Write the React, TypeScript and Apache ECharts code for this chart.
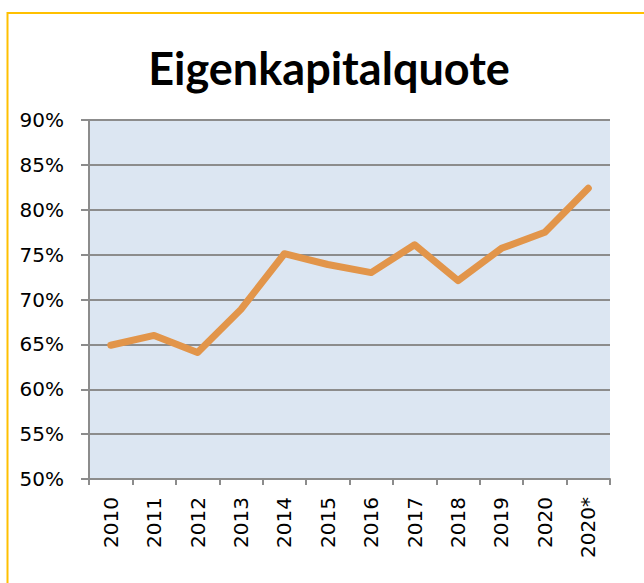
import React, { useEffect, useRef } from "react";
import * as echarts from "echarts";

const categories = ["2010", "2011", "2012", "2013", "2014", "2015", "2016", "2017", "2018", "2019", "2020", "2020*"];
const equityRatio = [64.9, 66.0, 64.1, 68.9, 75.1, 73.9, 73.0, 76.1, 72.1, 75.7, 77.5, 82.4];
const yMin = 50;
const yMax = 90;
const yStep = 5;
const titleText = "Eigenkapitalquote";

const labelFont = "'DejaVu Sans', Verdana, sans-serif";

export default function App() {
  const ref = useRef<HTMLDivElement>(null);
  useEffect(() => {
    if (!ref.current) return;
    const chart = echarts.init(ref.current, null, { renderer: "svg" });
    chart.setOption({
      animation: false,
      backgroundColor: "#ffffff",
      textStyle: { fontFamily: labelFont },
      graphic: [
        {
          type: "rect",
          shape: { x: 7.5, y: 13, width: 700, height: 700 },
          style: { fill: "none", stroke: "#FFC000", lineWidth: 2 },
          silent: true,
          z: 100,
        },
        {
          type: "text",
          x: 329,
          y: 45,
          style: {
            text: titleText,
            fontFamily: "Lato",
            fontWeight: "bold",
            fontSize: 45,
            fill: "#000000",
            textAlign: "center",
            textVerticalAlign: "top",
          },
        },
      ],
      grid: {
        left: 89,
        right: 34,
        top: 120,
        bottom: 104,
        show: true,
        backgroundColor: "#DCE6F2",
        borderWidth: 0,
      },
      xAxis: {
        type: "category",
        data: categories,
        boundaryGap: true,
        axisLine: { show: true, lineStyle: { color: "#8C8C8C", width: 2 } },
        axisTick: { show: true, alignWithLabel: false, length: 6, lineStyle: { color: "#8C8C8C", width: 2 } },
        axisLabel: {
          rotate: 90,
          interval: 0,
          margin: 18,
          fontSize: 20,
          fontFamily: labelFont,
          color: "#000000",
        },
        splitLine: { show: false },
      },
      yAxis: {
        type: "value",
        min: yMin,
        max: yMax,
        interval: yStep,
        axisLine: { show: true, lineStyle: { color: "#8C8C8C", width: 2 } },
        axisTick: { show: true, length: 8, lineStyle: { color: "#8C8C8C", width: 2 } },
        axisLabel: {
          formatter: "{value}%",
          margin: 25,
          fontSize: 20,
          fontFamily: labelFont,
          color: "#000000",
        },
        splitLine: { show: true, lineStyle: { color: "#8C8C8C", width: 2 } },
      },
      series: [
        {
          type: "line",
          data: equityRatio,
          symbol: "none",
          lineStyle: { color: "#E2954A", width: 7, cap: "round", join: "round" },
        },
      ],
    });
    return () => chart.dispose();
  }, []);
  return (
    <div
      ref={ref}
      style={{ position: "fixed", left: 0, top: 0, width: 644, height: 583 }}
    />
  );
}
